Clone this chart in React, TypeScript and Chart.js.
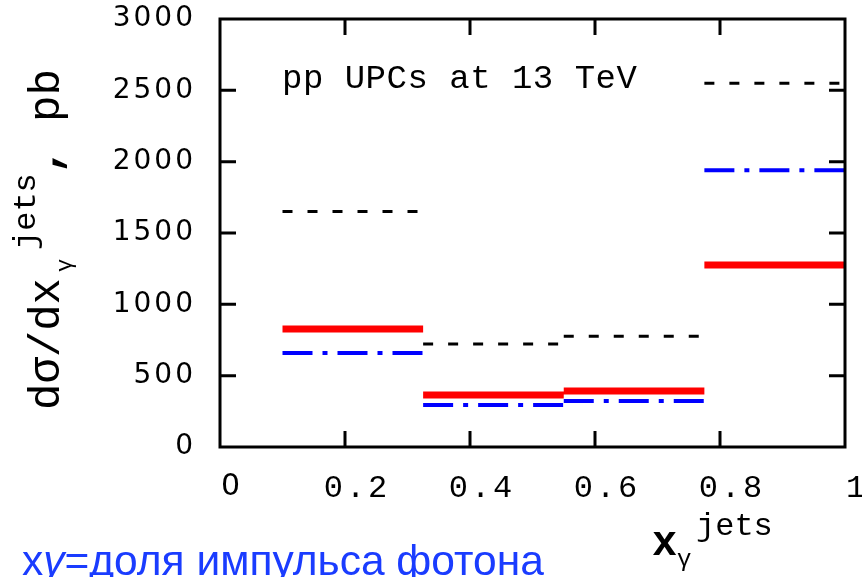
import React, { useEffect, useRef } from "react";
import { Chart, registerables } from "chart.js";

Chart.register(...registerables);

const binEdges = [0.1, 0.325, 0.55, 0.775, 1.0];
const blackDashed = [1650, 722, 776, 2549];
const redSolid = [827, 364, 392, 1276];
const blueDashDot = [659, 294, 322, 1939];
const yTicks = [0, 500, 1000, 1500, 2000, 2500, 3000];
const xTicks = [0, 0.2, 0.4, 0.6, 0.8, 1];

function stepPoints(values: number[]) {
  const pts: { x: number; y: number | null }[] = [];
  values.forEach((v, i) => {
    pts.push({ x: binEdges[i], y: v });
    pts.push({ x: binEdges[i + 1], y: v });
    pts.push({ x: binEdges[i + 1], y: null });
  });
  return pts;
}

const MONO = "'Liberation Mono'";

const framePlugin = {
  id: "frameAndText",
  beforeDraw(chart: any) {
    chart.ctx.letterSpacing = "3px";
  },
  afterDatasetsDraw(chart: any) {
    const { ctx, chartArea } = chart;
    const xs = chart.scales.x;
    const ys = chart.scales.y;
    ctx.save();
    ctx.strokeStyle = "#000";
    ctx.lineWidth = 3;
    ctx.lineCap = "butt";
    ctx.strokeRect(chartArea.left, chartArea.top, chartArea.right - chartArea.left, chartArea.bottom - chartArea.top);
    const tl = 16;
    ctx.beginPath();
    yTicks.slice(1, -1).forEach((v) => {
      const p = ys.getPixelForValue(v);
      ctx.moveTo(chartArea.left, p);
      ctx.lineTo(chartArea.left + tl, p);
      ctx.moveTo(chartArea.right, p);
      ctx.lineTo(chartArea.right - tl, p);
    });
    xTicks.slice(1, -1).forEach((v) => {
      const p = xs.getPixelForValue(v);
      ctx.moveTo(p, chartArea.bottom);
      ctx.lineTo(p, chartArea.bottom - tl);
      ctx.moveTo(p, chartArea.top);
      ctx.lineTo(p, chartArea.top + tl);
    });
    ctx.stroke();
    ctx.restore();
  },
  afterDraw(chart: any) {
    const { ctx } = chart;
    ctx.save();
    ctx.fillStyle = "#000";
    ctx.textBaseline = "alphabetic";
    ctx.textAlign = "left";

    // annotation
    ctx.letterSpacing = "0.5px";
    ctx.font = `34px ${MONO}`;
    ctx.fillText("pp UPCs at 13 TeV", 282, 88);
    ctx.letterSpacing = "0px";

    // y title (rotated)
    ctx.save();
    ctx.translate(59, 410);
    ctx.rotate(-Math.PI / 2);
    ctx.font = `44px ${MONO}`;
    ctx.fillText("dσ/dx", 0, 0);
    ctx.font = `22px ${MONO}`;
    ctx.fillText("γ", 138, 12);
    ctx.font = `32px ${MONO}`;
    ctx.fillText("jets", 160, -24);
    ctx.font = `bold 44px ${MONO}`;
    ctx.fillText(",", 236, 0);
    ctx.font = `44px ${MONO}`;
    ctx.fillText("pb", 288, 0);
    ctx.restore();

    // x title
    ctx.font = `bold 42px ${MONO}`;
    ctx.fillText("x", 652, 555);
    ctx.font = `24px ${MONO}`;
    ctx.fillText("γ", 677, 566);
    ctx.font = `32px ${MONO}`;
    ctx.fillText("jets", 696, 535);

    // blue note
    ctx.fillStyle = "#1a3cff";
    const fs = 42.5;
    ctx.font = `${fs}px 'Liberation Sans'`;
    let bx = 22;
    ctx.fillText("x", bx, 575);
    bx += ctx.measureText("x").width;
    ctx.font = `italic ${fs}px 'Liberation Sans'`;
    ctx.fillText("γ", bx, 575);
    bx += ctx.measureText("γ").width;
    ctx.font = `${fs}px 'Liberation Sans'`;
    ctx.fillText("=доля импульса фотона", bx, 575);
    ctx.restore();
  },
};

export default function App() {
  const ref = useRef<HTMLCanvasElement>(null);
  useEffect(() => {
    document.body.style.margin = "0";
    const canvas = ref.current!;
    const chart = new Chart(canvas, {
      type: "line",
      data: {
        datasets: [
          {
            label: "black",
            data: stepPoints(blackDashed) as any,
            borderColor: "#000000",
            borderWidth: 3,
            borderDash: [10, 15],
            pointRadius: 0,
            spanGaps: false,
            fill: false,
          },
          {
            label: "blue",
            data: stepPoints(blueDashDot) as any,
            borderColor: "#0000ff",
            borderWidth: 4,
            borderDash: [30, 10, 5, 10],
            pointRadius: 0,
            spanGaps: false,
            fill: false,
          },
          {
            label: "red",
            data: stepPoints(redSolid) as any,
            borderColor: "#ff0000",
            borderWidth: 7,
            pointRadius: 0,
            spanGaps: false,
            fill: false,
          },
        ],
      },
      options: {
        animation: false,
        responsive: false,
        devicePixelRatio: 1,
        layout: { padding: { top: 19, right: 17, left: 0, bottom: 0 } },
        plugins: { legend: { display: false }, tooltip: { enabled: false } },
        scales: {
          x: {
            type: "linear",
            min: 0,
            max: 1,
            grid: { display: false, drawTicks: false },
            border: { display: false },
            afterBuildTicks: (s: any) => {
              s.ticks = xTicks.map((v) => ({ value: v }));
            },
            afterFit: (s: any) => {
              s.height = 130;
              s.paddingLeft = 0;
              s.paddingRight = 0;
            },
            ticks: {
              autoSkip: false,
              maxRotation: 0,
              padding: 22,
              labelOffset: 12,
              color: "#000",
              callback: (v: any) => (v === 0 ? "0" : v === 1 ? "1" : Number(v).toFixed(1)),
              font: (c: any) =>
                c.tick && c.tick.value === 0
                  ? { family: "DejaVu Sans", size: 30 }
                  : { family: "Liberation Mono", size: 32 },
            },
          },
          y: {
            type: "linear",
            min: 0,
            max: 3000,
            grid: { display: false, drawTicks: false },
            border: { display: false },
            afterBuildTicks: (s: any) => {
              s.ticks = yTicks.map((v) => ({ value: v }));
            },
            afterFit: (s: any) => {
              s.width = 220;
              s.paddingTop = 0;
              s.paddingBottom = 0;
            },
            ticks: {
              padding: 24,
              color: "#000",
              font: { family: "DejaVu Sans", size: 28 },
              callback: (v: any) => String(v),
            },
          },
        },
      },
      plugins: [framePlugin],
    });
    return () => chart.destroy();
  }, []);
  return (
    <div style={{ width: 862, height: 577 }}>
      <canvas ref={ref} width={862} height={577} style={{ display: "block" }} />
    </div>
  );
}
